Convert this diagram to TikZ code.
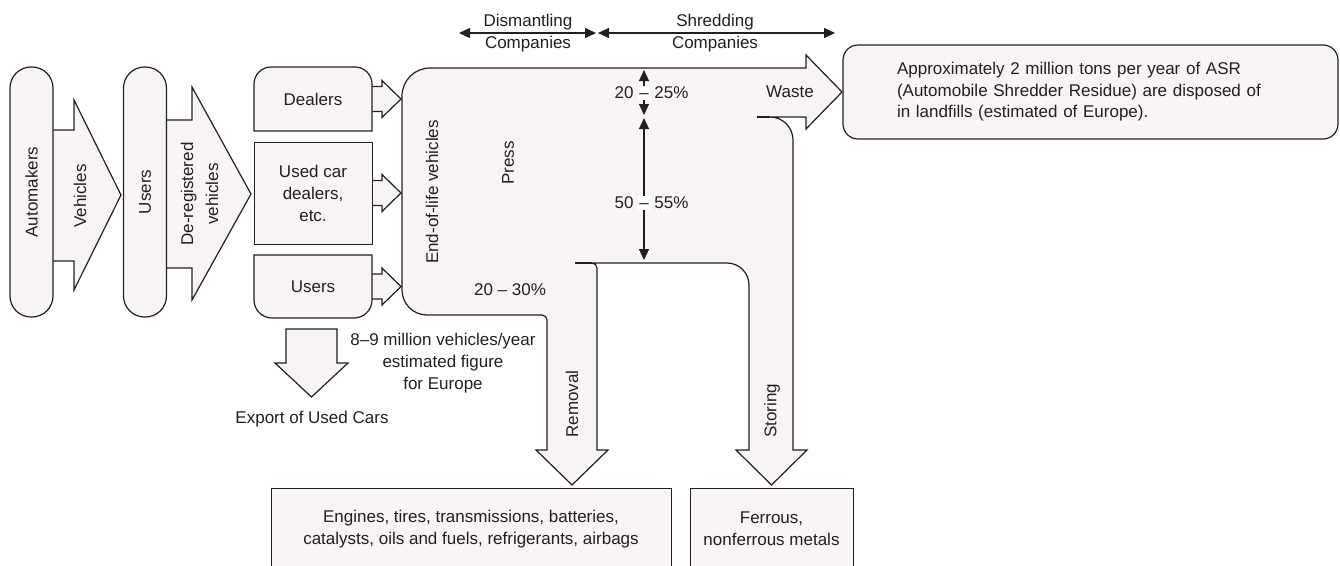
\documentclass[tikz,border=0pt]{standalone}
\usepackage{fontspec}
\setmainfont{Liberation Sans}
\usetikzlibrary{positioning,arrows.meta}
\definecolor{figline}{HTML}{231F20}
\definecolor{figfill}{HTML}{F8F3F7}
\pgfdeclarelayer{background}
\pgfsetlayers{background,main}
\newcommand{\wdash}{{\setlength{\fboxsep}{1pt}\colorbox{white}{\vphantom{2}–}}}

\begin{document}
\begin{tikzpicture}[x=1pt, y=-1pt,
  every node/.style={font=\fontsize{17}{22}\selectfont, text=figline, inner sep=0pt, outer sep=0pt},
  flowline/.style={draw=figline, line width=1.2pt, fill=figfill},
  boxline/.style={flowline, line width=0.95pt},
  pill/.style={flowline, rounded corners=21pt, rotate=90, minimum width=250pt, minimum height=43pt},
  srcbox/.style={minimum width=118pt, align=center},
  sinkbox/.style={minimum height=82pt, align=center},
  asrbox/.style={flowline, rounded corners=15pt, minimum height=94pt,
                 text width=387pt, inner xsep=54pt, align=left, font=\fontsize{17}{21.5}\selectfont},
  dim/.style={{Triangle[length=11pt,width=10pt]}-{Triangle[length=11pt,width=10pt]}, draw=figline, line width=1.1pt},
  vlabel/.style={rotate=90, align=center},
  note/.style={align=center}
]
\useasboundingbox (0,0) rectangle (1340,565);

\node[pill] (automakers) at (31.5,192) {Automakers};
\node[pill] (users) at (145,192) {Users};
\node[vlabel] (vehicles) at (80,196) {Vehicles};
\node[vlabel, font=\fontsize{17}{25}\selectfont] (dereg) at (199.5,194) {De-registered\\vehicles};

\node[srcbox, minimum height=64pt] (dealers) at (313,99) {Dealers};
\node[srcbox, minimum height=102pt, below=11pt of dealers] (usedcar) {Used car\\dealers,\\etc.};
\node[srcbox, minimum height=63pt, below=11pt of usedcar] (owners) {Users};

\coordinate (dis-w) at (459,33);
\coordinate (dis-e) at (596,33);
\coordinate (shr-w) at (598,33);
\coordinate (shr-e) at (835,33);
\coordinate (pct-top) at (644,70);
\coordinate (pct-a) at (644,115);
\coordinate (pct-b) at (644,118);
\coordinate (pct-bot) at (644,260);
\draw[dim] (dis-w) -- (dis-e);
\draw[dim] (shr-w) -- (shr-e);
\draw[dim] (pct-top) -- (pct-a);
\draw[dim] (pct-b) -- (pct-bot);

\node[note] (dismantling) at (528,33) {Dismantling\\Companies};
\node[note] (shredding) at (715,33) {Shredding\\Companies};
\node (share1) at (644,93) {\makebox[0pt][r]{20\ }\wdash\makebox[0pt][l]{\ 25\%}};
\node (share2) at (644,203) {\makebox[0pt][r]{50\ }\wdash\makebox[0pt][l]{\ 55\%}};
\node (share3) at (510,290) {20 – 30\%};
\node[vlabel] (eol) at (432,192) {End-of-life vehicles};
\node[vlabel] (press) at (508,163) {Press};
\node (waste) at (790,92) {Waste};
\node[vlabel] (removal) at (572,404) {Removal};
\node[vlabel] (storing) at (772,411) {Storing};

\node[asrbox] (asr) at (1090.5,92) {Approximately 2 million tons per year of ASR\\(Automobile Shredder Residue) are disposed of\\in landfills (estimated of Europe).};
\node[sinkbox, minimum width=400pt] (parts) at (471,529) {Engines, tires, transmissions, batteries,\\catalysts, oils and fuels, refrigerants, airbags};
\node[sinkbox, minimum width=163pt] (metals) at (771.5,529) {Ferrous,\\nonferrous metals};
\node[note] (volume) at (443,363) {8–9 million vehicles/year\\estimated figure\\for Europe};
\node (export) at (312,419) {Export of Used Cars};

\begin{pgfonlayer}{background}
\filldraw[flowline] (53,130) -- (74,130) -- (74,100) -- (121,195) -- (74,290) -- (74,261) -- (53,261);
\filldraw[flowline] (167,120) -- (192,120) -- (192,87) -- (251,194) -- (192,300) -- (192,268) -- (167,268);
\foreach \b in {dealers,usedcar,owners}
  \filldraw[flowline] (\b.east) ++(0,-12.5) -- ++(10,0) -- ++(0,-6) -- ++(19,18.5) -- ++(-19,18.5) -- ++(0,-6) -- ++(-10,0);
\filldraw[flowline] (dealers.south west) -- ([yshift=-17pt]dealers.north west)
  arc[start angle=180, end angle=270, radius=17] -- ([xshift=-17pt]dealers.north east)
  arc[start angle=270, end angle=360, radius=17] -- (dealers.south east) -- cycle;
\filldraw[boxline] (usedcar.south west) -- (usedcar.north west) -- (usedcar.north east) -- (usedcar.south east) -- cycle;
\filldraw[flowline] (owners.north west) -- (owners.north east) -- ([yshift=18pt]owners.south east)
  arc[start angle=0, end angle=90, radius=18] -- ([xshift=18pt]owners.south west)
  arc[start angle=90, end angle=180, radius=18] -- cycle;
\foreach \s in {parts,metals}
  \filldraw[boxline] (\s.south west) -- (\s.north west) -- (\s.north east) -- (\s.south east) -- cycle;
\filldraw[flowline] (286,329) -- (286,363) -- (275,363) -- (311.5,397) -- (348,363) -- (337,363) -- (337,329) -- cycle;
\filldraw[flowline] (402,96) arc[start angle=180, end angle=270, radius=28]
  -- (806,68) -- (806,55) -- (842,92) -- (806,129) -- (806,117) -- (770,117)
  arc[start angle=270, end angle=360, radius=23]
  -- (793,450) -- (807,450) -- (771.5,485) -- (736,450) -- (749,450) -- (749,285)
  arc[start angle=0, end angle=-90, radius=22]
  -- (592,263) arc[start angle=270, end angle=360, radius=5]
  -- (597,450) -- (608,450) -- (572,485) -- (536,450) -- (547,450) -- (547,320)
  arc[start angle=0, end angle=-90, radius=5]
  -- (427,315) arc[start angle=90, end angle=180, radius=25] -- cycle;
\draw[flowline] (757,117) -- (770,117);
\draw[flowline] (575,263) -- (592,263);
\end{pgfonlayer}
\end{tikzpicture}
\end{document}
